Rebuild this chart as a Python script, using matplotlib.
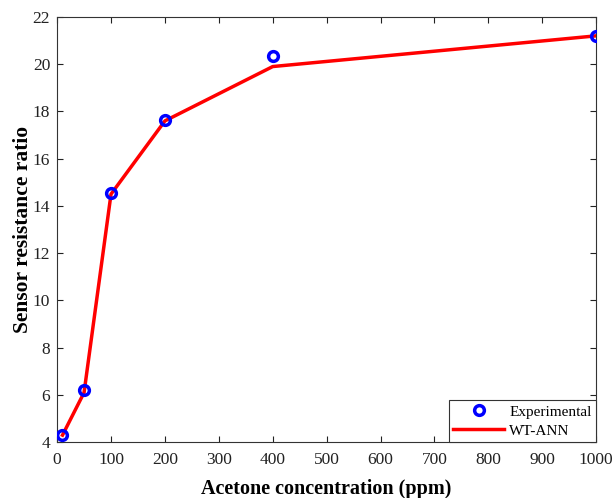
import numpy as np
import matplotlib
matplotlib.use("Agg")
import matplotlib.pyplot as plt

# acetone concentration (ppm) and sensor resistance ratio
conc = [10, 50, 100, 200, 400, 1000]
exp_ratio = [4.3, 6.2, 14.55, 17.65, 20.35, 21.2]
ann_ratio = [4.3, 6.1, 14.5, 17.6, 19.9, 21.2]

xticks = list(range(0, 1001, 100))
yticks = list(range(4, 23, 2))

plt.rcParams['font.family'] = ['Liberation Serif', 'DejaVu Serif']

fig = plt.figure(figsize=(6.14, 4.98), dpi=100)
ax = fig.add_axes([0.093, 0.112, 0.878, 0.854])

ax.plot(conc, exp_ratio, 'o', ms=7, mfc='none', mec='#0000ff', mew=2.5, label='Experimental', zorder=3)
ax.plot(conc, ann_ratio, '-', color='#ff0000', lw=2.5, label='WT-ANN', zorder=2)

ax.set_xlim(0, 1000)
ax.set_ylim(4, 22)
ax.set_xticks(xticks)
ax.set_yticks(yticks)
ax.tick_params(direction='in', top=True, right=True, labelsize=12.5, length=4, colors='#222222')
ax.tick_params(axis='x', pad=7)
ax.tick_params(axis='y', pad=5)
for s in ax.spines.values():
    s.set_color('#333333')
    s.set_linewidth(0.8)

ax.set_xlabel('Acetone concentration (ppm)', fontsize=14.5, fontweight='bold', labelpad=8)
ax.set_ylabel('Sensor resistance ratio', fontsize=15.5, fontweight='bold', labelpad=0)

leg = ax.legend(loc='lower right', fontsize=11, fancybox=False, framealpha=1,
                edgecolor='#333333', borderaxespad=0, handlelength=3.3, borderpad=0.3,
                labelspacing=0.35, handletextpad=0.35)
leg.get_frame().set_linewidth(0.8)

fig.savefig('out.png', dpi=100)
